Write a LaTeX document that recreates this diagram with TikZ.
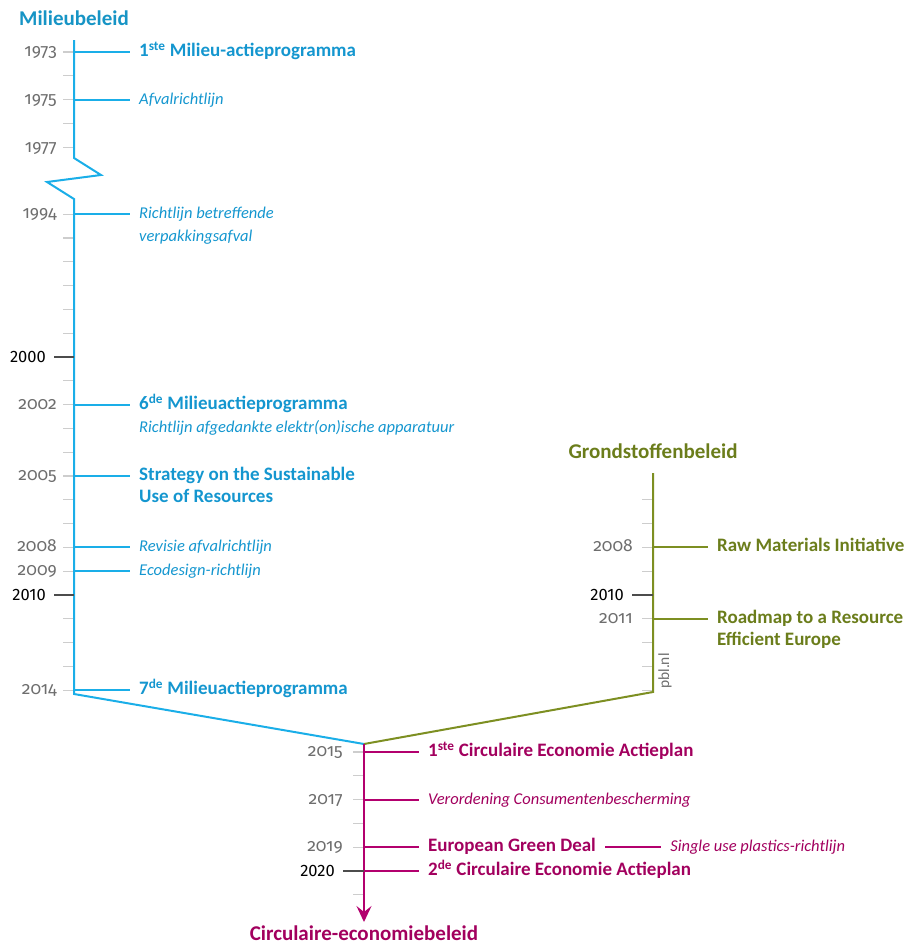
\documentclass[tikz,border=0pt]{standalone}
\usepackage{fontspec}
\setmainfont{Carlito}
\newfontfamily\yearfont{Fira Sans}[Numbers=OldStyle]
\newfontfamily\darkyearfont{Fira Sans}
\usetikzlibrary{arrows.meta,positioning}

\definecolor{lineblue}{HTML}{1AAEE8}
\definecolor{textblue}{HTML}{1496CF}
\definecolor{linegreen}{HTML}{7D8F22}
\definecolor{textgreen}{HTML}{6B7D1B}
\definecolor{linepurple}{HTML}{B3006E}
\definecolor{textpurple}{HTML}{A2005E}
\definecolor{yeargray}{HTML}{6E6E6E}
\definecolor{tickgray}{HTML}{CDCDCD}

\begin{document}
\begin{tikzpicture}[
  x=1pt, y=-1pt,
  axis/.style={line width=2pt, line join=miter},
  evline/.style={line width=1.4pt, shorten >=9pt},
  yrtick/.style={line width=1.3pt, tickgray},
  darktick/.style={line width=1.3pt, black!70},
  yrlab/.style={inner sep=0pt, text height=9pt, text depth=0pt,
                font=\yearfont\fontsize{17.5}{20}\selectfont, text=yeargray},
  darklab/.style={inner sep=0pt, text height=10pt, text depth=0pt,
                  font=\darkyearfont\fontsize{16.5}{19}\selectfont, text=black},
  ev/.style={inner sep=0pt, text height=9pt, text depth=0pt,
             font=\fontsize{19}{22}\selectfont\bfseries},
  evit/.style={inner sep=0pt, text height=9pt, text depth=0pt,
               font=\fontsize{16.5}{20}\selectfont\itshape},
  evb/.style={ev, text=textblue},
  evbi/.style={evit, text=textblue},
  evg/.style={ev, text=textgreen},
  evp/.style={ev, text=textpurple},
  evpi/.style={evit, text=textpurple},
  ttl/.style={inner sep=0pt, text height=14pt, text depth=0pt,
              font=\fontsize{21}{24}\selectfont\bfseries}
]
\useasboundingbox (0,0) rectangle (908,945);

% axis points
\coordinate (mtop) at (74,40);
\coordinate (zz1) at (74,158);
\coordinate (zz2) at (101,175);
\coordinate (zz3) at (47,182);
\coordinate (zz4) at (74,199);
\coordinate (mbot) at (74,694);
\coordinate (join) at (364,744);
\coordinate (gtop) at (653,473);
\coordinate (gbot) at (653,692);
\coordinate (ctip) at (364,922);

% year ticks
\foreach \yy in {1973,...,1977}
  \draw[yrtick] (63,{52+(\yy-1973)*23.8}) -- ++(11,0);
\foreach \yy in {1994,...,2014}
  \draw[yrtick] (63,{357+(\yy-2000)*23.8}) -- ++(11,0);
\foreach \yy in {2006,...,2014}
  \draw[yrtick] (642,{357+(\yy-2000)*23.8}) -- ++(11,0);
\foreach \yy in {2015,...,2021}
  \draw[yrtick] (353,{752+(\yy-2015)*23.8}) -- ++(11,0);

\draw[axis, lineblue] (mtop) -- (zz1) -- (zz2) -- (zz3) -- (zz4) -- (mbot) -- (join);
\draw[axis, linegreen] (gtop) -- (gbot) -- (join);
\draw[axis, linepurple, -{Stealth[length=16pt, width=15pt, inset=6pt]}] (join) -- (ctip);

\node[ttl, text=lineblue!85!black, above=14pt of mtop] (tmilieu) {Milieubeleid};
\node[ttl, text=textgreen, above=14pt of gtop] (tgrond) {Grondstoffenbeleid};
\node[ttl, text=textpurple, below=4pt of ctip] (tcirc) {Circulaire-economiebeleid};

% Milieubeleid
\coordinate (b1973) at (74,52);
\coordinate (b1975) at (74,100);
\coordinate (b1977) at (74,148);
\coordinate (b1994) at (74,214);
\coordinate (b2000) at (74,357);
\coordinate (b2002) at (74,405);
\coordinate (b2005) at (74,476);
\coordinate (b2008) at (74,547);
\coordinate (b2009) at (74,571);
\coordinate (b2010) at (74,595);
\coordinate (b2014) at (74,690);

\node[yrlab, left=17pt of b1973] (l1973) {1973};
\node[yrlab, left=17pt of b1975] (l1975) {1975};
\node[yrlab, left=17pt of b1977] (l1977) {1977};
\node[yrlab, left=17pt of b1994] (l1994) {1994};
\node[yrlab, left=17pt of b2002] (l2002) {2002};
\node[yrlab, left=17pt of b2005] (l2005) {2005};
\node[yrlab, left=17pt of b2008] (l2008) {2008};
\node[yrlab, left=17pt of b2009] (l2009) {2009};
\node[yrlab, left=17pt of b2014] (l2014) {2014};
\draw[darktick] (b2000) -- ++(-20,0);
\draw[darktick] (b2010) -- ++(-20,0);
\node[darklab, left=28pt of b2000] (l2000) {2000};
\node[darklab, left=28pt of b2010] (l2010) {2010};

\node[evb, right=65pt of b1973] (e1973) {1\textsuperscript{ste} Milieu-actieprogramma};
\node[evbi, right=65pt of b1975] (e1975) {Afvalrichtlijn};
\node[evbi, right=65pt of b1994] (e1994) {Richtlijn betreffende};
\node[evbi, below right=13.5pt and 0pt of e1994.south west] (e1994b) {verpakkingsafval};
\node[evb, right=65pt of b2002] (e2002) {6\textsuperscript{de} Milieuactieprogramma};
\node[evbi, below right=13.5pt and 0pt of e2002.south west] (e2002b) {Richtlijn afgedankte elektr(on)ische apparatuur};
\node[evb, right=65pt of b2005] (e2005) {Strategy on the Sustainable};
\node[evb, below right=13pt and 0pt of e2005.south west] (e2005b) {Use of Resources};
\node[evbi, right=65pt of b2008] (e2008) {Revisie afvalrichtlijn};
\node[evbi, right=65pt of b2009] (e2009) {Ecodesign-richtlijn};
\node[evb, right=65pt of b2014] (e2014) {7\textsuperscript{de} Milieuactieprogramma};

\draw[evline, lineblue] (b1973) -- (e1973);
\draw[evline, lineblue] (b1975) -- (e1975);
\draw[evline, lineblue] (b1994) -- (e1994);
\draw[evline, lineblue] (b2002) -- (e2002);
\draw[evline, lineblue] (b2005) -- (e2005);
\draw[evline, lineblue] (b2008) -- (e2008);
\draw[evline, lineblue] (b2009) -- (e2009);
\draw[evline, lineblue] (b2014) -- (e2014);

% Grondstoffenbeleid
\coordinate (g2008) at (653,547);
\coordinate (g2010) at (653,595);
\coordinate (g2011) at (653,619);

\node[yrlab, left=20pt of g2008] (lg2008) {2008};
\node[yrlab, left=20pt of g2011] (lg2011) {2011};
\draw[darktick] (g2010) -- ++(-21,0);
\node[darklab, left=29pt of g2010] (lg2010) {2010};

\node[evg, right=64pt of g2008] (eg2008) {Raw Materials Initiative};
\node[evg, right=64pt of g2011] (eg2011) {Roadmap to a Resource};
\node[evg, below right=13pt and 0pt of eg2011.south west] (eg2011b) {Efficient Europe};

\draw[evline, linegreen] (g2008) -- (eg2008);
\draw[evline, linegreen] (g2011) -- (eg2011);

\node[rotate=90, inner sep=0pt, text=yeargray, font=\fontsize{15.5}{18}\selectfont] (pbl) at (665,671) {pbl.nl};

% Circulaire-economiebeleid
\coordinate (p2015) at (364,752);
\coordinate (p2017) at (364,800);
\coordinate (p2019) at (364,847);
\coordinate (p2020) at (364,871);

\node[yrlab, left=21pt of p2015] (lp2015) {2015};
\node[yrlab, left=21pt of p2017] (lp2017) {2017};
\node[yrlab, left=21pt of p2019] (lp2019) {2019};
\draw[darktick] (p2020) -- ++(-21,0);
\node[darklab, left=29pt of p2020] (lp2020) {2020};

\node[evp, right=64pt of p2015] (ep2015) {1\textsuperscript{ste} Circulaire Economie Actieplan};
\node[evpi, right=64pt of p2017] (ep2017) {Verordening Consumentenbescherming};
\node[evp, right=64pt of p2019] (ep2019) {European Green Deal};
\node[evpi, right=74pt of ep2019.east] (sp2019) {Single use plastics-richtlijn};
\node[evp, right=64pt of p2020] (ep2020) {2\textsuperscript{de} Circulaire Economie Actieplan};

\draw[evline, linepurple] (p2015) -- (ep2015);
\draw[evline, linepurple] (p2017) -- (ep2017);
\draw[evline, linepurple] (p2019) -- (ep2019);
\draw[evline, linepurple, shorten <=9pt] (ep2019) -- (sp2019);
\draw[evline, linepurple] (p2020) -- (ep2020);
\end{tikzpicture}
\end{document}
